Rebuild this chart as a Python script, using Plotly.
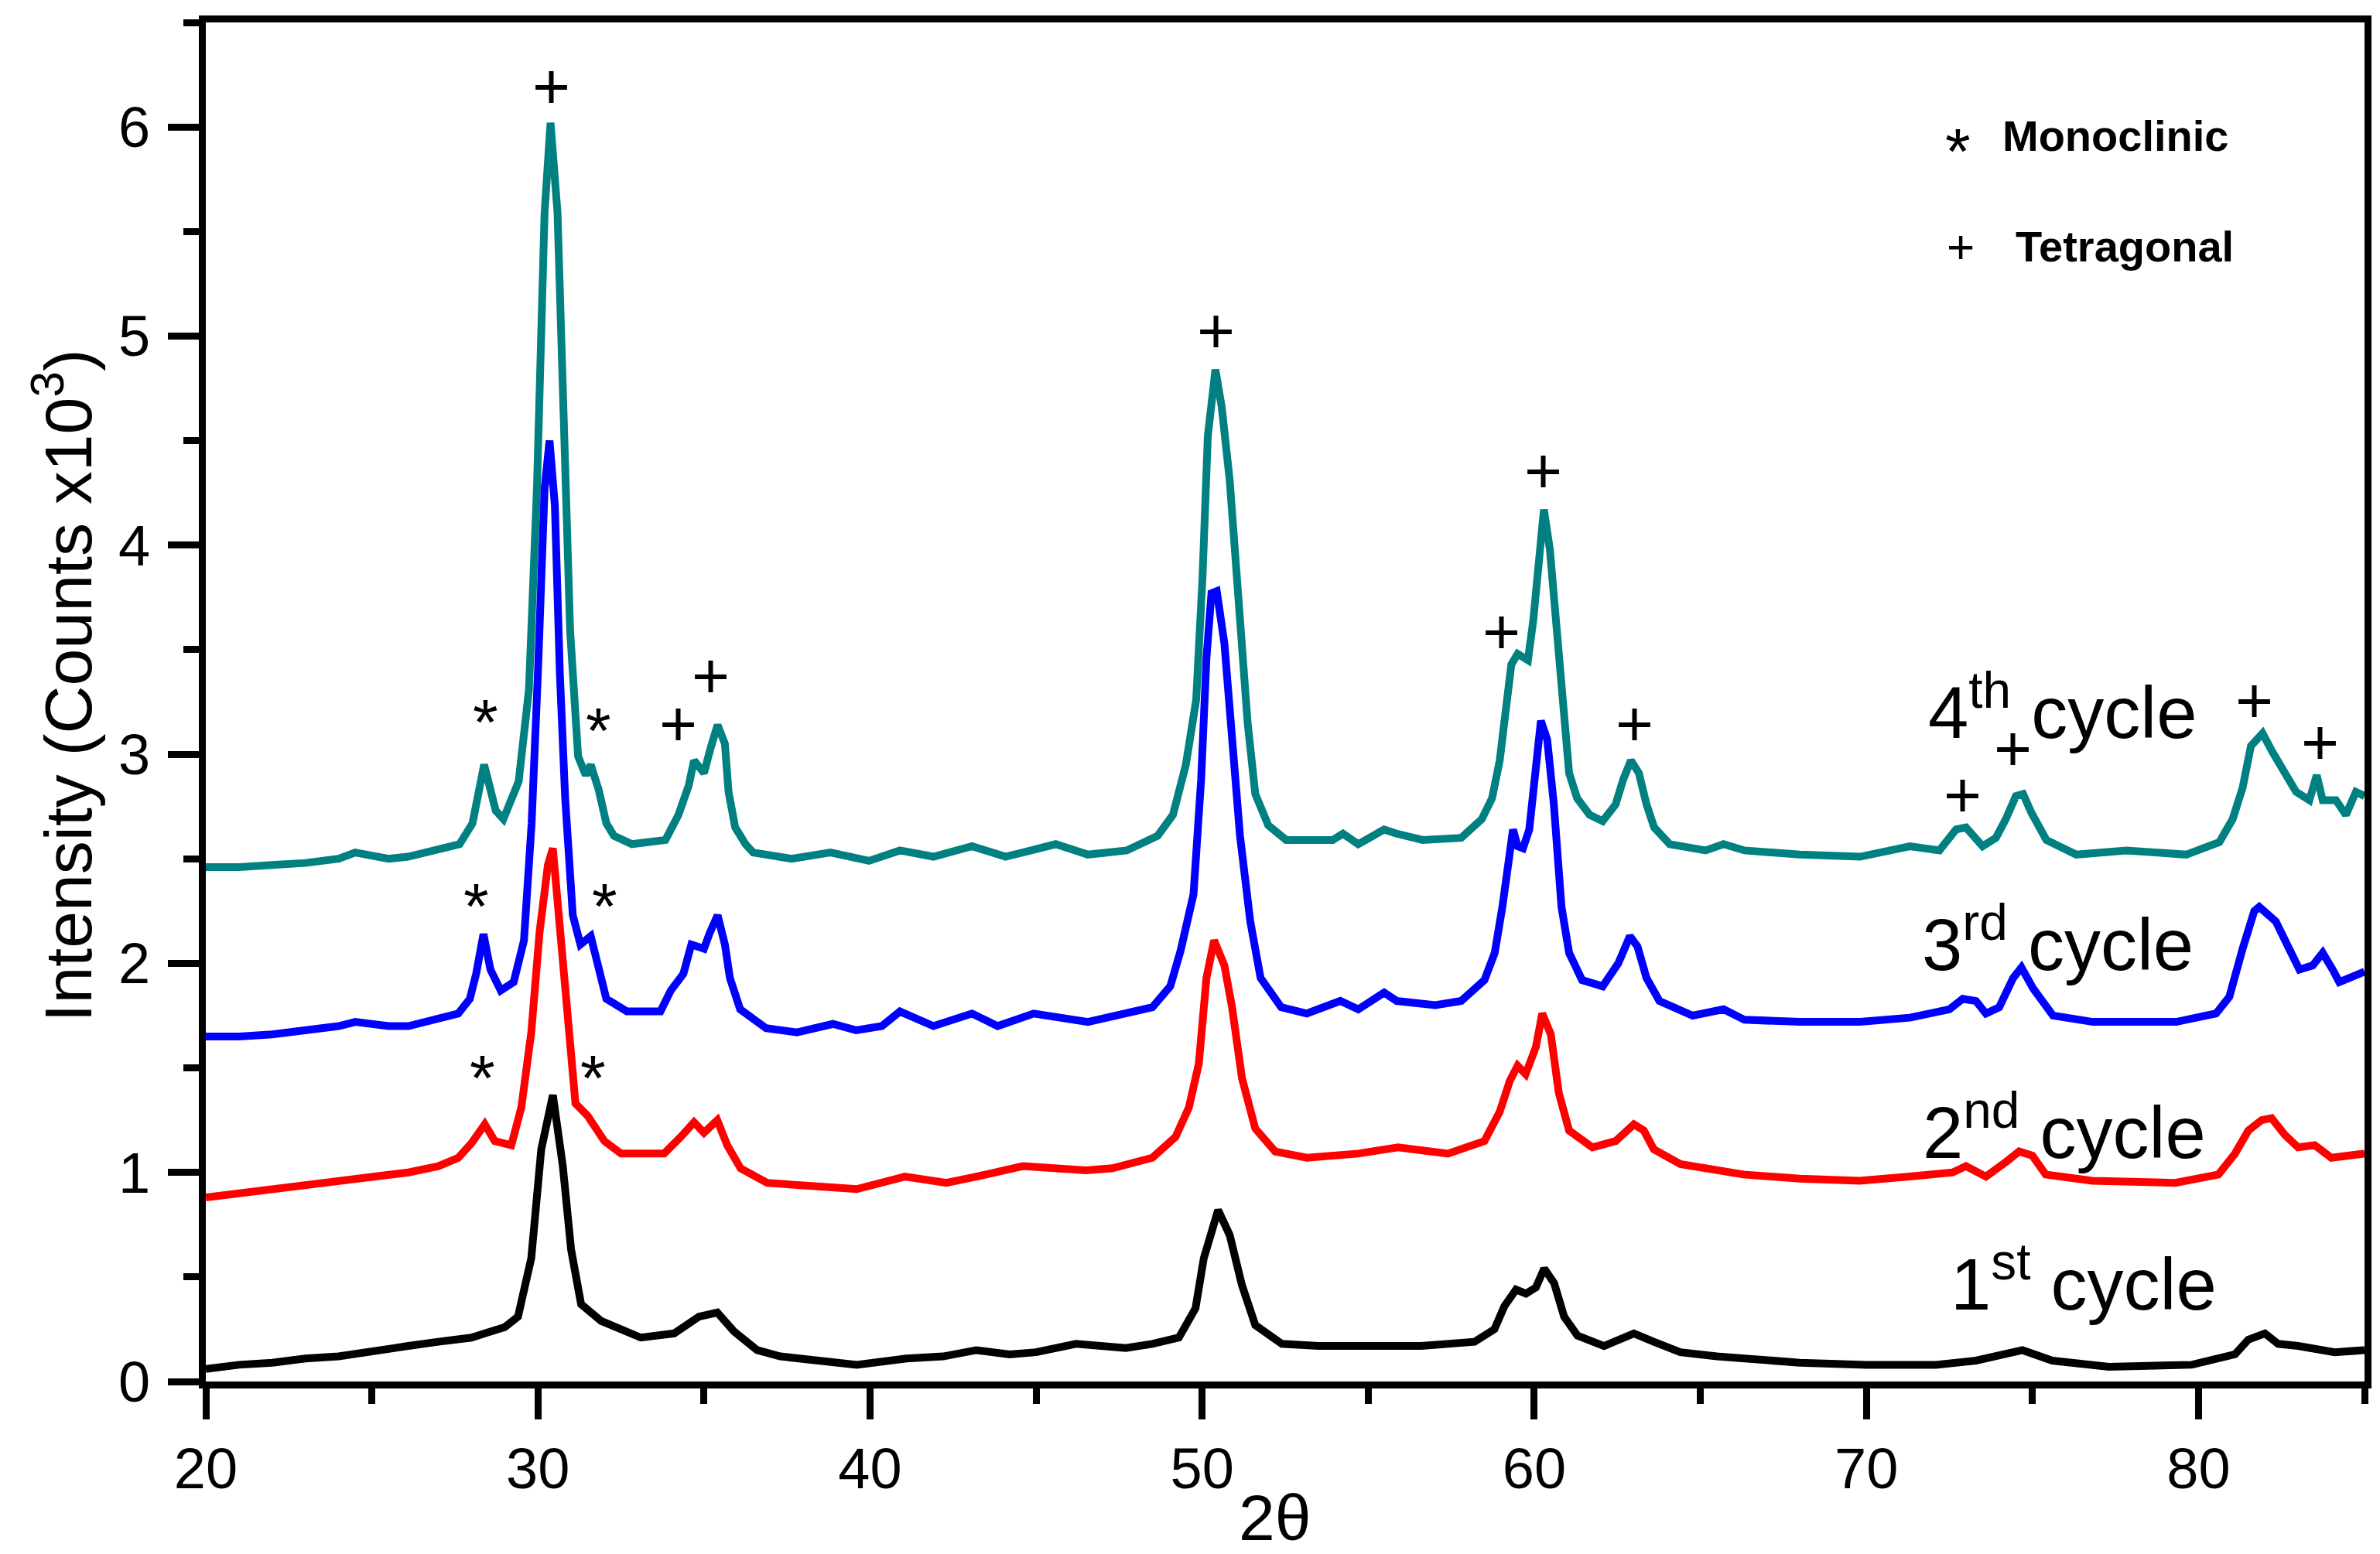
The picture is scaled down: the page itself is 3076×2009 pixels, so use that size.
import plotly.graph_objects as go

# ---------------- data ----------------
x_1st = [20, 21, 22, 23, 24, 25, 26.1, 27, 28, 28.4, 29, 29.4, 29.8, 30.1, 30.45, 30.75, 31.0, 31.3, 31.9,
         33.1, 34.1, 34.85, 35.4, 35.9, 36.6, 37.3, 38.5, 39.6, 41.1, 42.2, 43.2, 44.2, 45.0, 46.2, 47.7,
         48.5, 49.3, 49.8, 50.05, 50.48, 50.83, 51.2, 51.6, 52.4, 53.5, 55, 56.6, 58.2, 58.8, 59.1, 59.45,
         59.75, 60.05, 60.3, 60.6, 60.9, 61.3, 62.1, 63.0, 63.6, 64.4, 65.5, 66.3, 68, 70, 72.1, 73.3, 74.7,
         75.6, 77.3, 79.8, 81.1, 81.5, 82.0, 82.4, 83.0, 84.1, 85]
y_1st = [0.06, 0.08, 0.09, 0.11, 0.12, 0.14, 0.17, 0.19, 0.21, 0.23, 0.26, 0.31, 0.59, 1.11, 1.37, 1.03, 0.63,
         0.37, 0.29, 0.21, 0.23, 0.31, 0.33, 0.24, 0.15, 0.12, 0.10, 0.08, 0.11, 0.12, 0.15, 0.13, 0.14, 0.18,
         0.16, 0.18, 0.21, 0.35, 0.59, 0.82, 0.70, 0.46, 0.27, 0.18, 0.17, 0.17, 0.17, 0.19, 0.25, 0.36, 0.44,
         0.42, 0.45, 0.54, 0.47, 0.31, 0.22, 0.17, 0.23, 0.19, 0.14, 0.12, 0.11, 0.09, 0.08, 0.08, 0.10, 0.15,
         0.10, 0.07, 0.08, 0.13, 0.20, 0.23, 0.18, 0.17, 0.14, 0.15]

x_2nd = [20, 21, 22, 23, 24, 25, 26.1, 27, 27.6, 28.0, 28.4, 28.7, 29.2, 29.5, 29.8, 30.05, 30.3, 30.45, 30.65,
         30.9, 31.13, 31.5, 32.0, 32.5, 33.8, 34.3, 34.7, 35.0, 35.4, 35.7, 36.1, 36.9, 38.4, 39.6, 41.05,
         42.3, 43.2, 44.6, 46.5, 47.3, 48.5, 49.2, 49.6, 49.9, 50.13, 50.36, 50.67, 50.9, 51.2, 51.6, 52.2,
         53.15, 54.7, 55.9, 57.4, 58.5, 58.96, 59.27, 59.5, 59.74, 60.05, 60.24, 60.5, 60.74, 61.05, 61.75,
         62.45, 63.0, 63.3, 63.6, 64.4, 65.5, 66.3, 68, 69.8, 71.3, 72.6, 73.0, 73.6, 74.2, 74.6, 75.0, 75.4,
         76.8, 79.3, 80.6, 81.1, 81.5, 81.9, 82.2, 82.6, 83.0, 83.5, 84.0, 85]
y_2nd = [0.88, 0.90, 0.92, 0.94, 0.96, 0.98, 1.00, 1.03, 1.07, 1.14, 1.23, 1.15, 1.13, 1.31, 1.67, 2.15, 2.47,
         2.55, 2.19, 1.67, 1.33, 1.27, 1.15, 1.09, 1.09, 1.17, 1.24, 1.19, 1.25, 1.13, 1.02, 0.95, 0.93, 0.92,
         0.98, 0.95, 0.98, 1.03, 1.01, 1.02, 1.07, 1.17, 1.31, 1.52, 1.93, 2.11, 1.99, 1.79, 1.45, 1.21, 1.10,
         1.07, 1.09, 1.12, 1.09, 1.15, 1.29, 1.44, 1.51, 1.47, 1.60, 1.76, 1.66, 1.38, 1.20, 1.12, 1.15, 1.23,
         1.20, 1.11, 1.04, 1.01, 0.99, 0.97, 0.96, 0.98, 1.00, 1.03, 0.98, 1.05, 1.10, 1.08, 0.99, 0.96, 0.95,
         0.99, 1.09, 1.20, 1.25, 1.26, 1.18, 1.12, 1.13, 1.07, 1.09]

x_3rd = [20, 21, 22, 23, 24, 24.5, 25.5, 26.1, 27.6, 27.95, 28.14, 28.36, 28.57, 28.88, 29.27, 29.58, 29.81,
         30.0, 30.2, 30.35, 30.51, 30.66, 30.82, 31.05, 31.28, 31.59, 31.83, 32.06, 32.68, 33.69, 34.0, 34.38,
         34.62, 35.0, 35.16, 35.41, 35.63, 35.78, 36.09, 36.87, 37.8, 38.88, 39.58, 40.36, 40.9, 41.91, 43.07,
         43.84, 44.93, 46.56, 48.5, 49.04, 49.35, 49.74, 49.97, 50.13, 50.28, 50.44, 50.67, 50.9, 51.14, 51.45,
         51.76, 52.38, 53.15, 54.16, 54.7, 55.48, 55.86, 57.02, 57.8, 58.5, 58.81, 59.04, 59.23, 59.36, 59.5,
         59.66, 59.85, 60.05, 60.2, 60.39, 60.59, 60.82, 61.05, 61.44, 62.06, 62.53, 62.88, 63.11, 63.38,
         63.77, 64.77, 65.7, 66.33, 68, 69.81, 71.31, 72.5, 72.9, 73.3, 73.6, 74.0, 74.42, 74.67, 75.02,
         75.62, 76.82, 79.33, 80.53, 80.93, 81.33, 81.68, 81.83, 82.33, 82.73, 83.04, 83.44, 83.74, 84.04,
         84.24, 85]
y_3rd = [1.65, 1.65, 1.66, 1.68, 1.70, 1.72, 1.70, 1.70, 1.76, 1.83, 1.95, 2.14, 1.97, 1.87, 1.91, 2.11, 2.67,
         3.39, 4.27, 4.50, 4.19, 3.39, 2.79, 2.23, 2.09, 2.13, 1.99, 1.83, 1.77, 1.77, 1.87, 1.95, 2.09, 2.07,
         2.14, 2.23, 2.09, 1.93, 1.78, 1.69, 1.67, 1.71, 1.68, 1.70, 1.77, 1.70, 1.76, 1.70, 1.76, 1.72, 1.79,
         1.89, 2.06, 2.33, 2.88, 3.46, 3.77, 3.78, 3.53, 3.05, 2.61, 2.20, 1.93, 1.79, 1.76, 1.82, 1.78, 1.86,
         1.82, 1.80, 1.82, 1.92, 2.05, 2.27, 2.48, 2.64, 2.56, 2.55, 2.64, 2.94, 3.16, 3.07, 2.76, 2.27, 2.05,
         1.92, 1.89, 2.00, 2.13, 2.08, 1.93, 1.82, 1.75, 1.78, 1.73, 1.72, 1.72, 1.74, 1.78, 1.83, 1.82, 1.76,
         1.79, 1.93, 1.98, 1.88, 1.75, 1.72, 1.72, 1.76, 1.84, 2.07, 2.25, 2.27, 2.20, 2.07, 1.97, 1.99, 2.05,
         1.97, 1.91, 1.96]

x_4th = [20, 21, 22, 23, 24, 24.5, 25.5, 26.09, 27.64, 28.03, 28.38, 28.73, 28.96, 29.42, 29.73, 29.97, 30.2,
         30.38, 30.59, 30.74, 30.97, 31.21, 31.44, 31.59, 31.83, 32.06, 32.29, 32.83, 33.84, 34.23, 34.54,
         34.7, 35.0, 35.2, 35.41, 35.63, 35.74, 35.94, 36.25, 36.48, 37.64, 38.81, 39.97, 40.9, 41.91, 43.07,
         44.08, 44.85, 45.59, 46.56, 47.73, 48.66, 49.12, 49.51, 49.82, 50.01, 50.17, 50.4, 50.59, 50.83,
         51.06, 51.37, 51.6, 51.99, 52.53, 53.93, 54.24, 54.7, 55.48, 55.86, 56.64, 57.8, 58.42, 58.73, 58.96,
         59.12, 59.31, 59.5, 59.81, 59.97, 60.16, 60.29, 60.47, 60.63, 60.82, 61.05, 61.29, 61.67, 62.06,
         62.45, 62.68, 62.91, 63.15, 63.38, 63.61, 64.08, 65.16, 65.7, 66.33, 68, 69.81, 71.31, 72.2, 72.7,
         73.0, 73.5, 73.9, 74.2, 74.5, 74.72, 74.97, 75.42, 76.32, 77.83, 79.63, 80.63, 81.03, 81.33, 81.58,
         81.93, 82.23, 82.64, 82.94, 83.34, 83.56, 83.74, 84.14, 84.44, 84.74, 85]
y_4th = [2.46, 2.46, 2.47, 2.48, 2.50, 2.53, 2.50, 2.51, 2.57, 2.67, 2.95, 2.73, 2.69, 2.87, 3.31, 4.27, 5.59,
         6.02, 5.59, 4.67, 3.59, 2.99, 2.90, 2.95, 2.83, 2.67, 2.61, 2.57, 2.59, 2.71, 2.85, 2.97, 2.91, 3.03,
         3.14, 3.05, 2.82, 2.65, 2.57, 2.53, 2.50, 2.53, 2.49, 2.54, 2.51, 2.56, 2.51, 2.54, 2.57, 2.52, 2.54,
         2.61, 2.71, 2.95, 3.26, 3.84, 4.52, 4.84, 4.66, 4.31, 3.80, 3.15, 2.81, 2.66, 2.59, 2.59, 2.62, 2.57,
         2.64, 2.62, 2.59, 2.60, 2.69, 2.79, 2.97, 3.22, 3.43, 3.48, 3.45, 3.64, 3.98, 4.17, 3.98, 3.67, 3.25,
         2.91, 2.79, 2.71, 2.68, 2.76, 2.88, 2.97, 2.91, 2.76, 2.65, 2.57, 2.54, 2.57, 2.54, 2.52, 2.51, 2.56,
         2.54, 2.64, 2.65, 2.56, 2.60, 2.69, 2.80, 2.81, 2.72, 2.59, 2.52, 2.54, 2.52, 2.58, 2.69, 2.84, 3.04,
         3.10, 3.01, 2.91, 2.82, 2.78, 2.90, 2.78, 2.78, 2.71, 2.82, 2.80]

# phase markers (peak labels)
tetragonal_x = [30.41, 34.23, 35.2, 50.42, 59.0, 60.26, 63.01, 72.9, 74.42, 81.68, 83.67]
tetragonal_y = [6.15, 3.10, 3.33, 4.98, 3.54, 4.31, 3.10, 2.76, 2.98, 3.21, 3.01]
monoclinic_x = [28.42, 31.83, 28.14, 32.0, 28.34, 31.67]
monoclinic_y = [3.17, 3.13, 2.29, 2.29, 1.47, 1.47]

# cycle labels
cycle_text = ["4<sup>th</sup> cycle", "3<sup>rd</sup> cycle", "2<sup>nd</sup> cycle", "1<sup>st</sup> cycle"]
cycle_x = [71.81, 71.62, 71.66, 72.5]
cycle_y = [3.17, 2.06, 1.16, 0.435]

x_ticks = [20, 30, 40, 50, 60, 70, 80]
y_ticks = [0, 1, 2, 3, 4, 5, 6]

# ---------------- figure ----------------
FONT = "Liberation Sans, Arial, sans-serif"
series = [
    (x_4th, y_4th, "#008080", "4th cycle"),
    (x_3rd, y_3rd, "#0000FF", "3rd cycle"),
    (x_2nd, y_2nd, "#FF0000", "2nd cycle"),
    (x_1st, y_1st, "#000000", "1st cycle"),
]

fig = go.Figure()
for xs, ys, col, name in series:
    fig.add_trace(go.Scatter(x=xs, y=ys, mode="lines", name=name,
                             line=dict(color=col, width=10), showlegend=False))

ann = []
for xv, yv in zip(tetragonal_x, tetragonal_y):
    ann.append(dict(x=xv, y=yv, xref="x", yref="y", text="+", showarrow=False,
                    xanchor="center", yanchor="middle", yshift=13,
                    font=dict(family=FONT, size=84, color="black")))
for xv, yv in zip(monoclinic_x, monoclinic_y):
    ann.append(dict(x=xv, y=yv, xref="x", yref="y", text="*", showarrow=False,
                    xanchor="center", yanchor="middle", yshift=-5,
                    font=dict(family=FONT, size=84, color="black")))
for t, xv, yv in zip(cycle_text, cycle_x, cycle_y):
    ann.append(dict(x=xv, y=yv, xref="x", yref="y", text=t, showarrow=False,
                    xanchor="left", yanchor="middle", yshift=15,
                    font=dict(family=FONT, size=94, color="black")))

# key (top-right)
ann.append(dict(x=72.75, y=5.906, xref="x", yref="y", text="*", showarrow=False,
                xanchor="center", yanchor="middle", yshift=-6,
                font=dict(family=FONT, size=84, color="black")))
ann.append(dict(x=74.05, y=5.914, xref="x", yref="y", text="<b>Monoclinic</b>", showarrow=False,
                xanchor="left", yanchor="middle", yshift=12,
                font=dict(family=FONT, size=56, color="black")))
ann.append(dict(x=72.85, y=5.40, xref="x", yref="y", text="+", showarrow=False,
                xanchor="center", yanchor="middle", yshift=8,
                font=dict(family=FONT, size=62, color="black")))
ann.append(dict(x=74.45, y=5.40, xref="x", yref="y", text="<b>Tetragonal</b>", showarrow=False,
                xanchor="left", yanchor="middle", yshift=8,
                font=dict(family=FONT, size=56, color="black")))

# axis titles
ann.append(dict(x=(74 - 258) / 2790, y=0.512, xref="paper", yref="paper",
                text="Intensity (Counts x10<sup>3</sup>)", textangle=-90, showarrow=False,
                xanchor="center", yanchor="middle",
                font=dict(family=FONT, size=86, color="black")))
ann.append(dict(x=0.4953, y=-0.100, xref="paper", yref="paper",
                text="2θ", showarrow=False, xanchor="center", yanchor="middle",
                font=dict(family=FONT, size=84, color="black")))

axis_common = dict(showline=True, linecolor="black", linewidth=9, mirror=True,
                   ticks="outside", tickcolor="black", tickwidth=9, ticklen=40,
                   showgrid=False, zeroline=False,
                   tickfont=dict(family=FONT, size=74, color="black"))

fig.update_layout(
    width=3076, height=2009,
    margin=dict(l=258, r=28, t=17, b=231, pad=0),
    paper_bgcolor="white", plot_bgcolor="white",
    annotations=ann,
    xaxis=dict(range=[20, 85], tickvals=x_ticks, ticktext=[str(v) for v in x_ticks],
               minor=dict(dtick=5, tick0=20, ticks="outside", ticklen=20, tickwidth=9, tickcolor="black"),
               **axis_common),
    yaxis=dict(range=[0, 6.5], tickvals=y_ticks, ticktext=[str(v) for v in y_ticks],
               minor=dict(dtick=0.5, tick0=0, ticks="outside", ticklen=20, tickwidth=9, tickcolor="black"),
               ticklabelstandoff=8, **axis_common),
)

fig.write_html("out.html")
